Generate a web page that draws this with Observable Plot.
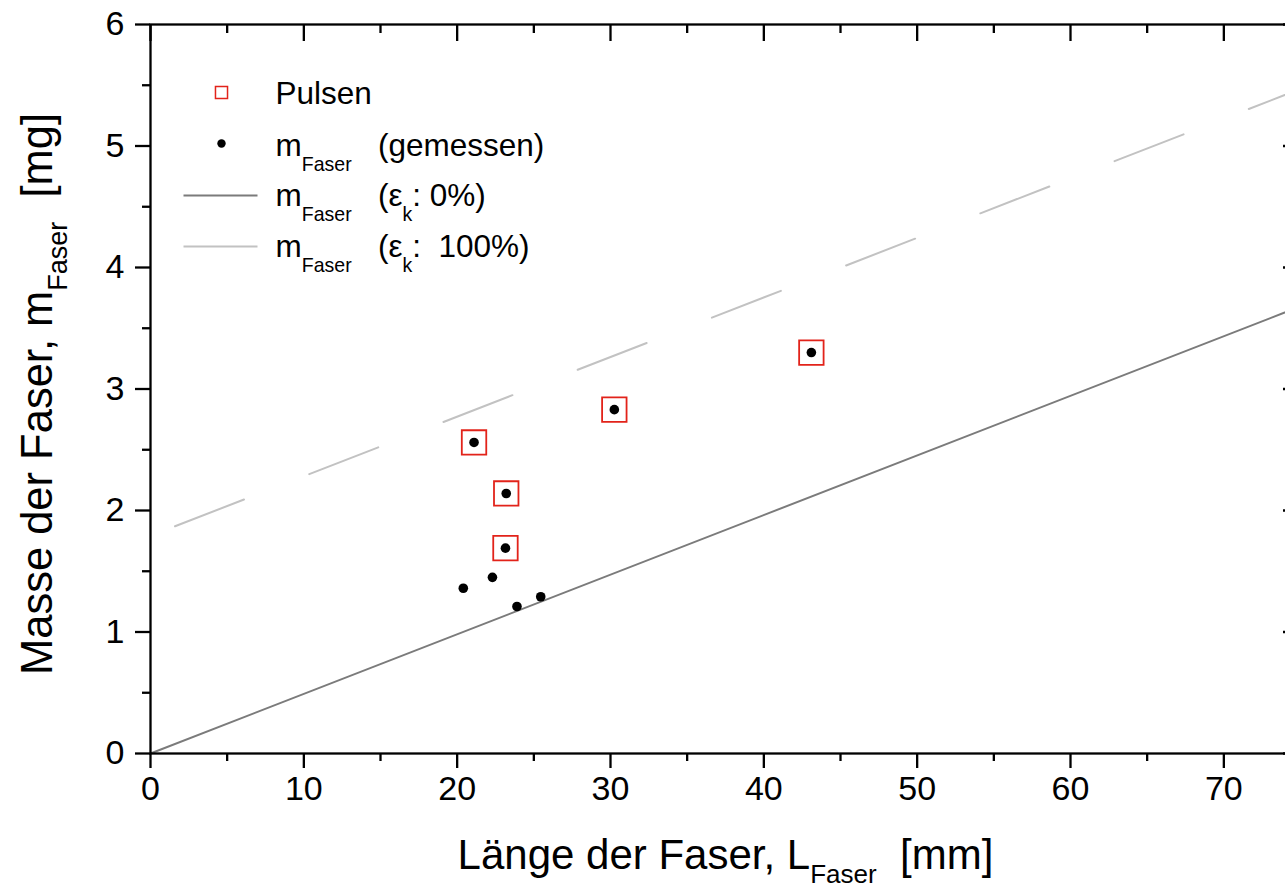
<!DOCTYPE html>
<html><head><meta charset="utf-8">
<script src="https://cdn.jsdelivr.net/npm/d3@7"></script>
<script src="https://cdn.jsdelivr.net/npm/@observablehq/plot@0.6"></script>
<style>
html,body{margin:0;padding:0;overflow:hidden;background:#fff;}
#chart svg{max-width:none !important;}
#chart text{white-space:pre;}
</style></head><body><div id="chart"></div>
<script>
// ---- data ----
const pulsenL = [21.1, 23.2, 23.15, 30.25, 43.1];
const pulsenM = [2.56, 2.14, 1.69, 2.83, 3.30];
const measuredL = [20.4, 21.1, 22.3, 23.15, 23.2, 23.9, 25.45, 30.25, 43.1];
const measuredM = [1.36, 2.56, 1.45, 1.69, 2.14, 1.21, 1.29, 2.83, 3.30];
const eps0L = [0, 75];
const eps0M = [0, 3.68];
const eps100L = [1.6, 75];
const eps100M = [1.87, 5.47];
const xTicks = [0, 10, 20, 30, 40, 50, 60, 70];
const xMinorTicks = [5, 15, 25, 35, 45, 55, 65, 75];
const yTicks = [0, 1, 2, 3, 4, 5, 6];
const yMinorTicks = [0.5, 1.5, 2.5, 3.5, 4.5, 5.5];
const legendLabels = ["Pulsen", "m_{Faser}   (gemessen)", "m_{Faser}   (ε_{k}: 0%)", "m_{Faser}   (ε_{k}:  100%)"];
const xTitle = "Länge der Faser, L_{Faser}  [mm]";
const yTitle = "Masse der Faser, m_{Faser}  [mg]";

// ---- styles ----
const RED = "#e2231a";
const DARK = "#7b7b7b";
const LIGHT = "#c2c2c2";
const AX = 2.3;

const pulsen = pulsenL.map((l, i) => ({L: l, m: pulsenM[i]}));
const measured = measuredL.map((l, i) => ({L: l, m: measuredM[i]}));
const line0 = eps0L.map((l, i) => ({L: l, m: eps0M[i]}));
const line100 = eps100L.map((l, i) => ({L: l, m: eps100M[i]}));

const hline = {draw(ctx, size) { ctx.moveTo(-37, 0); ctx.lineTo(37, 0); }};

const legendRowDy = [69, 121, 171, 222];

const plot = Plot.plot({
  width: 1300,
  height: 892,
  marginLeft: 150,
  marginRight: 0,
  marginTop: 24,
  marginBottom: 139,
  style: {fontFamily: "'Liberation Sans', Arial, sans-serif", color: "black", background: "white", overflow: "visible"},
  x: {domain: [0, 75]},
  y: {domain: [0, 6]},
  marks: [
    // data lines
    Plot.line(line0, {x: "L", y: "m", stroke: DARK, strokeWidth: 2}),
    Plot.line(line100, {x: "L", y: "m", stroke: LIGHT, strokeWidth: 2, strokeDasharray: "74,70"}),
    // points
    Plot.dot(pulsen, {x: "L", y: "m", symbol: "square", r: 13.8, stroke: RED, strokeWidth: 1.8, fill: "none"}),
    Plot.dot(measured, {x: "L", y: "m", r: 4.8, fill: "black", stroke: "none"}),
    // frame
    Plot.frame({stroke: "black", strokeWidth: AX}),
    // axes
    Plot.axisX({anchor: "bottom", ticks: xTicks, tickSize: 15, tickPadding: 7, fontSize: 34, strokeWidth: AX, label: null, tickFormat: d => String(d)}),
    Plot.axisX({anchor: "bottom", ticks: xMinorTicks, tickSize: 8, fill: "none", strokeWidth: AX, label: null}),
    Plot.axisX({anchor: "top", ticks: xTicks, tickSize: -16, fill: "none", strokeWidth: AX, label: null}),
    Plot.axisX({anchor: "top", ticks: xMinorTicks, tickSize: -8, fill: "none", strokeWidth: AX, label: null}),
    Plot.axisY({anchor: "left", ticks: yTicks, tickSize: 15, tickPadding: 11, fontSize: 34, strokeWidth: AX, label: null, tickFormat: d => String(d)}),
    Plot.axisY({anchor: "left", ticks: yMinorTicks, tickSize: 8, fill: "none", strokeWidth: AX, label: null}),
    Plot.axisY({anchor: "right", ticks: yTicks, tickSize: -18, fill: "none", strokeWidth: AX, label: null}),
    Plot.axisY({anchor: "right", ticks: yMinorTicks, tickSize: -8, fill: "none", strokeWidth: AX, label: null}),
    // axis titles
    Plot.text([xTitle], {frameAnchor: "bottom", dy: 102, lineAnchor: "middle", textAnchor: "middle", fontSize: 42, fill: "black"}),
    Plot.text([yTitle], {frameAnchor: "left", dx: -112, dy: 5, rotate: -90, lineAnchor: "middle", textAnchor: "middle", fontSize: 43.5, fill: "black"}),
    // legend
    Plot.dot([legendLabels[0]], {frameAnchor: "top-left", dx: 71, dy: 68, symbol: "square", r: 6.8, stroke: RED, strokeWidth: 1.5, fill: "none"}),
    Plot.dot([legendLabels[1]], {frameAnchor: "top-left", dx: 71, dy: 119, r: 4.2, fill: "black", stroke: "none"}),
    Plot.dot([legendLabels[2]], {frameAnchor: "top-left", dx: 70, dy: 171, symbol: hline, stroke: DARK, strokeWidth: 2.2}),
    Plot.dot([legendLabels[3]], {frameAnchor: "top-left", dx: 70, dy: 222, symbol: hline, stroke: LIGHT, strokeWidth: 2.2}),
    ...legendLabels.map((t, i) => Plot.text([t], {frameAnchor: "top-left", dx: 125, dy: legendRowDy[i], textAnchor: "start", lineAnchor: "middle", fontSize: 31.5, fill: "black"}))
  ]
});

document.getElementById("chart").appendChild(plot);

// turn "_{...}" into subscript tspans
d3.select(plot).selectAll("text").each(function() {
  const t = this.textContent;
  if (!t.includes("_{")) return;
  let fs = parseFloat(this.getAttribute("font-size"));
  if (!fs) { const g = this.closest("[font-size]"); fs = g ? parseFloat(g.getAttribute("font-size")) : 30; }
  const drop = fs >= 38 ? 0.33 : 0.5;
  const scale = 0.62;
  const parts = t.split(/_\{([^}]*)\}/);
  const sel = d3.select(this);
  sel.text(null);
  const d = fs * drop;
  parts.forEach((p, i) => {
    const isSub = i % 2 === 1;
    const ts = sel.append("tspan").text(p === "" ? "\u200b" : p);
    if (isSub) ts.attr("font-size", fs * scale).attr("dy", d);
    else if (i > 0) ts.attr("dy", -d);
  });
});
</script>
</body></html>
